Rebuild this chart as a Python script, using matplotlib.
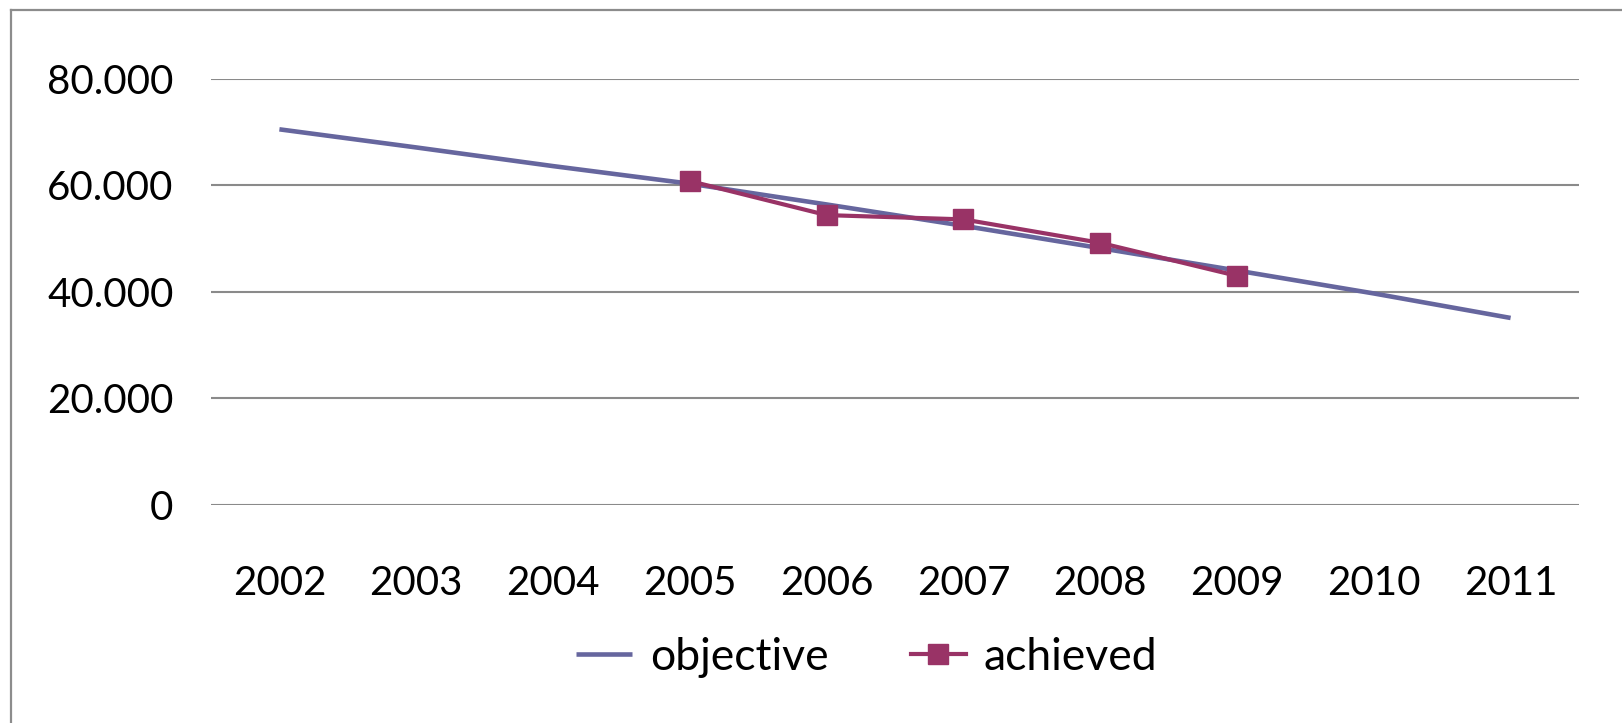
import numpy as np
import matplotlib.pyplot as plt
from matplotlib.lines import Line2D
from matplotlib.ticker import FuncFormatter

plt.rcParams['font.family'] = ['Lato', 'DejaVu Sans']

years = ['2002', '2003', '2004', '2005', '2006', '2007', '2008', '2009', '2010', '2011']
objective = [70500, 67100, 63600, 60300, 56400, 52400, 48200, 44000, 39700, 35100]
achieved = [np.nan, np.nan, np.nan, 60800, 54400, 53600, 49200, 43000, np.nan, np.nan]

OBJ_COLOR = '#66669e'
ACH_COLOR = '#993366'
GRID_COLOR = '#8a8a8a'
FS = 29
LEG_FS = 32

fig = plt.figure(figsize=(16.22, 7.23), dpi=100)
ax = fig.add_axes([211 / 1622, 1 - 505 / 723, 1368 / 1622, (505 - 78.7) / 723])

x = np.arange(len(years))
ax.plot(x, objective, color=OBJ_COLOR, lw=3.3, label='objective', solid_capstyle='butt')
ax.plot(x, achieved, color=ACH_COLOR, lw=3.0, marker='s', markersize=14,
        label='achieved')

ax.set_xlim(-0.5, len(years) - 0.5)
ax.set_ylim(0, 80000)
ax.set_yticks(np.arange(0, 80001, 20000))
ax.yaxis.set_major_formatter(FuncFormatter(lambda v, p: f'{int(v):,}'.replace(',', '.')))
ax.set_xticks(x)
ax.set_xticklabels(years)
ax.grid(axis='y', color=GRID_COLOR, lw=1.5)
ax.set_axisbelow(True)
for s in ['top', 'right', 'left', 'bottom']:
    ax.spines[s].set_visible(False)
ax.tick_params(axis='both', length=0, labelsize=FS)
ax.tick_params(axis='y', pad=27)
ax.tick_params(axis='x', pad=43)

leg = fig.legend(loc='center', bbox_to_anchor=(867 / 1622, 1 - 657 / 723), ncol=2,
                 frameon=False, fontsize=LEG_FS, handlelength=1.25, handletextpad=0.4,
                 columnspacing=1.85)

# outer chart border (left and top only are visible)
fig.add_artist(Line2D([11 / 1622, 11 / 1622], [0, 1 - 10 / 723], transform=fig.transFigure,
                      color='#8c8c8c', lw=1.6))
fig.add_artist(Line2D([11 / 1622, 1], [1 - 10 / 723, 1 - 10 / 723], transform=fig.transFigure,
                      color='#8c8c8c', lw=1.6))

fig.savefig('out.png', dpi=100, facecolor='white')
